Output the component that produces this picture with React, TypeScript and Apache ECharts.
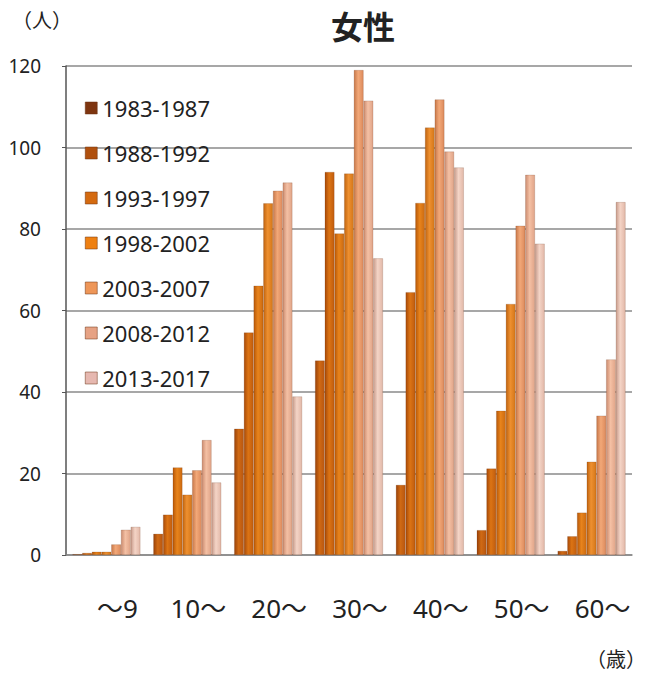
import React, { useEffect, useRef } from "react";
import * as echarts from "echarts";

const categories = ["～9", "10～", "20～", "30～", "40～", "50～", "60～"];
const seriesNames = ["1983-1987", "1988-1992", "1993-1997", "1998-2002", "2003-2007", "2008-2012", "2013-2017"];
const s1983 = [0.2, 5.2, 31, 47.7, 17.2, 6.1, 1];
const s1988 = [0.5, 9.9, 54.6, 94, 64.5, 21.2, 4.6];
const s1993 = [0.8, 21.5, 66.1, 78.9, 86.4, 35.4, 10.4];
const s1998 = [0.8, 14.8, 86.3, 93.6, 104.9, 61.6, 22.9];
const s2003 = [2.6, 20.8, 89.4, 119, 111.8, 80.8, 34.2];
const s2008 = [6.2, 28.2, 91.4, 111.5, 99, 93.3, 48];
const s2013 = [6.9, 17.8, 38.9, 72.8, 95.1, 76.4, 86.6];
const seriesValues = [s1983, s1988, s1993, s1998, s2003, s2008, s2013];
const yTicks = [0, 20, 40, 60, 80, 100, 120];

const barColors = [
  ["#9a4208", "#d06a14", "#b85610"],
  ["#a84a08", "#dc7414", "#c05c0e"],
  ["#b85808", "#e8841c", "#cc6a10"],
  ["#c06410", "#ee9030", "#d47618"],
  ["#c8784a", "#f2a878", "#dc8a5c"],
  ["#cc8c70", "#f4c0a4", "#e0a488"],
  ["#c89c8c", "#f4d4c6", "#e2b8a8"],
];
const legendColors = ["#7e3510", "#b0500e", "#d46a10", "#ee8012", "#ee9658", "#e6a284", "#e6b8b0"];

function cyl(c: string[]) {
  return new echarts.graphic.LinearGradient(0, 0, 1, 0, [
    { offset: 0, color: c[0] },
    { offset: 0.45, color: c[1] },
    { offset: 1, color: c[2] },
  ]);
}

export default function App() {
  const ref = useRef<HTMLDivElement>(null);
  useEffect(() => {
    document.body.style.margin = "0";
    const chart = echarts.init(ref.current!, null, { renderer: "svg" });
    const font = "'Noto Sans', 'Noto Sans CJK JP', sans-serif";
    const cjk = "'Noto Sans CJK JP', sans-serif";
    chart.setOption({
      animation: false,
      backgroundColor: "#ffffff",
      textStyle: { fontFamily: font },
      grid: { left: 66, right: 14, top: 66, bottom: 120, containLabel: false },
      legend: {
        orient: "vertical",
        left: 80,
        top: 92,
        itemWidth: 12,
        itemHeight: 12,
        itemGap: 23,
        icon: "rect",
        textStyle: { fontSize: 22, color: "#222", lineHeight: 20, fontFamily: font },
        data: seriesNames.map((n, i) => ({ name: n, itemStyle: { color: legendColors[i], borderColor: "#6a3010", borderWidth: 0.5 } })),
      },
      xAxis: {
        type: "category",
        data: categories,
        axisTick: { show: false },
        axisLine: { lineStyle: { color: "#8a8a8a", width: 1.5 } },
        axisLabel: { fontSize: 26, color: "#222", margin: 40, padding: [0, 0, 0, 22], fontFamily: font },
      },
      yAxis: {
        type: "value",
        min: 0,
        max: 120,
        interval: 20,
        axisLine: { show: true, lineStyle: { color: "#555", width: 1.5 } },
        axisTick: { show: true, length: 4, lineStyle: { color: "#555" } },
        axisLabel: { fontSize: 19, color: "#222", margin: 25, fontFamily: font, formatter: (v: number) => (yTicks.includes(v) ? String(v) : "") },
        splitLine: { lineStyle: { color: "#8a8a8a", width: 1.5 } },
      },
      series: seriesNames.map((n, i) => ({
        name: n,
        type: "bar",
        data: seriesValues[i],
        barGap: "0%",
        barCategoryGap: "16%",
        itemStyle: { color: cyl(barColors[i]), borderColor: "rgba(90,40,10,0.35)", borderWidth: 0.5 },
      })),
      graphic: [
        { type: "text", left: 12, top: 9, style: { text: "（人）", fontSize: 20, fill: "#222", fontFamily: cjk } },
        { type: "text", left: 331, top: 7, style: { text: "女性", fontSize: 32, lineHeight: 36, fontWeight: "bold", fill: "#222", fontFamily: cjk } },
        { type: "text", left: 586, top: 648, style: { text: "（歳）", fontSize: 20, fill: "#222", fontFamily: cjk } },
      ],
    });
    return () => chart.dispose();
  }, []);
  return <div ref={ref} style={{ width: 646, height: 675 }} />;
}
